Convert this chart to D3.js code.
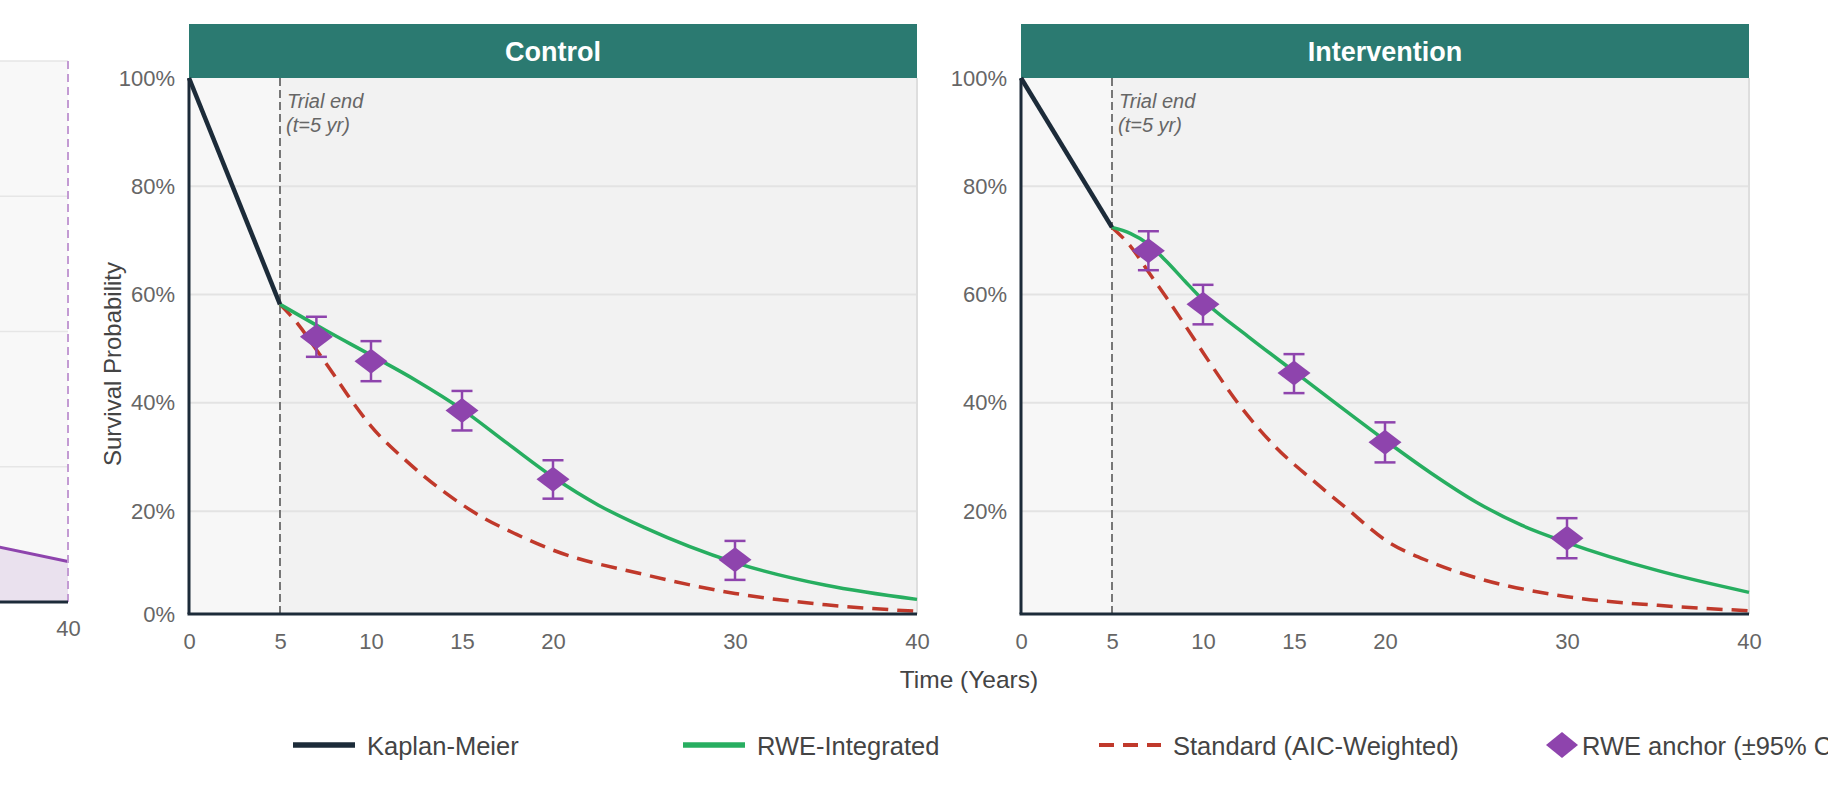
<!DOCTYPE html>
<html>
<head>
<meta charset="utf-8">
<script src="https://cdn.jsdelivr.net/npm/d3@7/dist/d3.min.js"></script>
<style>
  body { margin: 0; background: #fff; }
  svg text { font-family: 'Liberation Sans', Arial, Helvetica, sans-serif; }
</style>
</head>
<body>
<div id="chart"></div>
<script>
'use strict'

// shared axis stuff
let xTicks = [0, 5, 10, 15, 20, 30, 40]
let trialEnd = 5
let anchorYears = [7, 10, 15, 20, 30]

// Control arm
let controlKM = [[0, 1], [5, 0.582]]
let controlRWE = [[5, 0.582], [7.5, 0.534], [10, 0.488], [12.5, 0.441], [15, 0.388], [17.5, 0.325], [20, 0.263],
  [22.5, 0.211], [25, 0.17], [30, 0.105], [35, 0.063], [40, 0.037]]
let controlStd = [[5, 0.582], [6, 0.545], [7, 0.498], [8, 0.45], [9, 0.401], [10, 0.357], [12, 0.291], [14, 0.236],
  [16, 0.191], [18, 0.157], [20, 0.128], [25, 0.083], [30, 0.048], [35, 0.027], [40, 0.015]]
let controlAnchor = [0.522, 0.477, 0.386, 0.259, 0.11]
let controlLo = [0.485, 0.44, 0.349, 0.223, 0.073]
let controlHi = [0.559, 0.514, 0.422, 0.294, 0.145]

// Intervention arm
let interventionKM = [[0, 1], [5, 0.724]]
let interventionRWE = [[5, 0.724], [6, 0.713], [7, 0.693], [8, 0.661], [9, 0.625], [10, 0.59], [12.5, 0.522],
  [15, 0.458], [17.5, 0.394], [20, 0.331], [22.5, 0.271], [25, 0.217], [27.5, 0.174], [30, 0.142], [35, 0.09], [40, 0.05]]
let interventionStd = [[5, 0.724], [6, 0.69], [7, 0.642], [8, 0.594], [9, 0.544], [10, 0.493], [12, 0.396], [14, 0.318],
  [16, 0.258], [18, 0.202], [20, 0.147], [22.5, 0.106], [25, 0.077], [30, 0.042], [35, 0.026], [40, 0.016]]
let interventionAnchor = [0.681, 0.582, 0.455, 0.327, 0.15]
let interventionLo = [0.645, 0.545, 0.418, 0.29, 0.113]
let interventionHi = [0.717, 0.618, 0.49, 0.364, 0.187]

// the panel that is cut off at the left edge, only its tail shows
let cutYears = [35, 40]
let cutValues = [0.44, 0.3]
let cutTicks = [40]
let cutGrid = [1, 2, 3, 4]

let legendLabels = ['Kaplan-Meier', 'RWE-Integrated', 'Standard (AIC-Weighted)', 'RWE anchor (\u00b195% CI)']

let colors = {
  km: '#1c2b39',
  rwe: '#27ae60',
  std: '#c0392b',
  anchor: '#8e44ad',
  strip: '#2b7a71'
}

let config = {
  width: 1828,
  height: 790,
  panelWidth: 728,
  top: 78,
  bottom: 614,
  stripTop: 24
}

let svg = d3.select('#chart').append('svg')
  .attr('width', config.width)
  .attr('height', config.height)

let y = d3.scaleLinear().domain([0.01, 1]).range([config.bottom, config.top]).clamp(true)
let pct = d3.format('.0%')

function makeCutPanel() {
  let x = d3.scaleLinear().domain([0, 40]).range([68 - config.panelWidth, 68])
  let cy = d3.scaleLinear().domain([0, 4]).range([602, 61])
  let g = svg.append('g').attr('class', 'cut-panel')
  let pts = cutYears.map((t, i) => [t, cutValues[i]])

  g.append('rect')
    .attr('x', x(0)).attr('y', cy(4))
    .attr('width', config.panelWidth).attr('height', cy(0) - cy(4))
    .attr('fill', '#f8f8f8')
  g.append('g').selectAll('line').data(cutGrid).join('line')
    .attr('x1', x(0)).attr('x2', x(40))
    .attr('y1', d => cy(d)).attr('y2', d => cy(d))
    .attr('stroke', '#e6e6e6').attr('stroke-width', 1.5)
  g.append('path').datum(pts)
    .attr('d', d3.area().x(d => x(d[0])).y0(cy(0)).y1(d => cy(d[1])))
    .attr('fill', colors.anchor).attr('fill-opacity', 0.12)
  g.append('path').datum(pts)
    .attr('d', d3.line().x(d => x(d[0])).y(d => cy(d[1])))
    .attr('fill', 'none').attr('stroke', colors.anchor).attr('stroke-width', 3)
  g.append('line')
    .attr('x1', x(40)).attr('x2', x(40)).attr('y1', cy(4)).attr('y2', cy(0))
    .attr('stroke', '#c39bd3').attr('stroke-width', 2).attr('stroke-dasharray', '8,5')
  g.append('line')
    .attr('x1', x(0)).attr('x2', x(40)).attr('y1', cy(0)).attr('y2', cy(0))
    .attr('stroke', colors.km).attr('stroke-width', 3)

  let axis = g.append('g')
    .attr('transform', `translate(0, ${cy(0)})`)
    .call(d3.axisBottom(x).tickValues(cutTicks).tickSize(0).tickPadding(18))
  axis.select('.domain').remove()
  axis.selectAll('text').attr('font-size', 22).attr('fill', '#666').attr('font-family', null)
}

function makePanel(p) {
  let {top, bottom, panelWidth, stripTop} = config
  let x = d3.scaleLinear().domain([0, 40]).range([p.left, p.left + panelWidth])
  let g = svg.append('g').attr('class', 'panel')

  // backs
  g.append('rect')
    .attr('x', x(0)).attr('y', top)
    .attr('width', panelWidth).attr('height', bottom - top)
    .attr('fill', '#f2f2f2')
  g.append('rect')
    .attr('x', x(0)).attr('y', top)
    .attr('width', x(trialEnd) - x(0)).attr('height', bottom - top)
    .attr('fill', '#f7f7f7')

  g.append('g').attr('class', 'grid').selectAll('line').data([0.2, 0.4, 0.6, 0.8]).join('line')
    .attr('x1', x(0)).attr('x2', x(40))
    .attr('y1', d => y(d)).attr('y2', d => y(d))
    .attr('stroke', '#e3e3e3').attr('stroke-width', 2)

  g.append('line')
    .attr('x1', x(40)).attr('x2', x(40)).attr('y1', top).attr('y2', bottom)
    .attr('stroke', '#dedede').attr('stroke-width', 2)

  // strip title
  g.append('rect')
    .attr('x', x(0)).attr('y', stripTop)
    .attr('width', panelWidth).attr('height', top - stripTop)
    .attr('fill', colors.strip)
  g.append('text')
    .attr('x', (x(0) + x(40)) / 2).attr('y', 61)
    .attr('text-anchor', 'middle')
    .attr('font-size', 27).attr('font-weight', 'bold').attr('fill', '#fff')
    .text(p.title)

  // trial end marker
  g.append('line')
    .attr('x1', x(trialEnd)).attr('x2', x(trialEnd)).attr('y1', top).attr('y2', bottom)
    .attr('stroke', '#777').attr('stroke-width', 2).attr('stroke-dasharray', '8,4')
  let note = g.append('text')
    .attr('font-size', 20).attr('font-style', 'italic').attr('fill', '#666')
  note.append('tspan').attr('x', x(trialEnd) + 7).attr('y', 108).text('Trial end')
  note.append('tspan').attr('x', x(trialEnd) + 6).attr('y', 132).text(`(t=${trialEnd} yr)`)

  // curves
  let smooth = d3.line().x(d => x(d[0])).y(d => y(d[1])).curve(d3.curveMonotoneX)
  g.append('path').datum(p.std)
    .attr('d', smooth)
    .attr('fill', 'none').attr('stroke', colors.std).attr('stroke-width', 3.5)
    .attr('stroke-dasharray', '16,9')
  g.append('path').datum(p.rwe)
    .attr('d', smooth)
    .attr('fill', 'none').attr('stroke', colors.rwe).attr('stroke-width', 3.5)
  g.append('path').datum(p.km)
    .attr('d', d3.line().x(d => x(d[0])).y(d => y(d[1])))
    .attr('fill', 'none').attr('stroke', colors.km).attr('stroke-width', 4.5)

  // anchors with error bars
  let anchors = anchorYears.map((t, i) => ({t, v: p.anchor[i], lo: p.lo[i], hi: p.hi[i]}))
  let dot = g.append('g').attr('class', 'anchors').selectAll('g').data(anchors).join('g')
    .attr('transform', d => `translate(${x(d.t)}, 0)`)
    .attr('stroke', colors.anchor).attr('stroke-width', 2.5)
  dot.append('line').attr('y1', d => y(d.lo)).attr('y2', d => y(d.hi))
  dot.append('line').attr('x1', -10.5).attr('x2', 10.5).attr('y1', d => y(d.lo)).attr('y2', d => y(d.lo))
  dot.append('line').attr('x1', -10.5).attr('x2', 10.5).attr('y1', d => y(d.hi)).attr('y2', d => y(d.hi))
  dot.append('path')
    .attr('d', d => `M -16.5 ${y(d.v)} L 0 ${y(d.v) - 12.5} L 16.5 ${y(d.v)} L 0 ${y(d.v) + 12.5} Z`)
    .attr('fill', colors.anchor).attr('stroke', 'none')

  // axis lines
  g.append('line')
    .attr('x1', x(0)).attr('x2', x(0)).attr('y1', top).attr('y2', bottom)
    .attr('stroke', colors.km).attr('stroke-width', 3)
  g.append('line')
    .attr('x1', x(0) - 1.5).attr('x2', x(40)).attr('y1', bottom).attr('y2', bottom)
    .attr('stroke', colors.km).attr('stroke-width', 3)

  let xAxis = g.append('g')
    .attr('transform', `translate(0, ${bottom})`)
    .call(d3.axisBottom(x).tickValues(xTicks).tickSize(0).tickPadding(19))
  let yAxis = g.append('g')
    .attr('transform', `translate(${x(0)}, 0)`)
    .call(d3.axisLeft(y).tickValues(p.yTicks).tickFormat(pct).tickSize(0).tickPadding(14))
  for (let a of [xAxis, yAxis]) {
    a.select('.domain').remove()
    a.attr('font-family', null)
    a.selectAll('text').attr('font-size', 22).attr('fill', '#666')
  }
}

makeCutPanel()

makePanel({
  title: 'Control', left: 189,
  km: controlKM, rwe: controlRWE, std: controlStd,
  anchor: controlAnchor, lo: controlLo, hi: controlHi,
  yTicks: [0, 0.2, 0.4, 0.6, 0.8, 1]
})

makePanel({
  title: 'Intervention', left: 1021,
  km: interventionKM, rwe: interventionRWE, std: interventionStd,
  anchor: interventionAnchor, lo: interventionLo, hi: interventionHi,
  yTicks: [0.2, 0.4, 0.6, 0.8, 1]
})

// axis titles
svg.append('text')
  .attr('transform', 'translate(121, 364) rotate(-90)')
  .attr('text-anchor', 'middle')
  .attr('font-size', 24).attr('fill', '#444')
  .text('Survival Probability')
svg.append('text')
  .attr('x', 969).attr('y', 688)
  .attr('text-anchor', 'middle')
  .attr('font-size', 24.5).attr('fill', '#444')
  .text('Time (Years)')

// legend
let legendX = [293, 683, 1099, 1545]
let legendKeys = ['km', 'rwe', 'std', 'anchor']
let legend = svg.append('g').attr('class', 'legend')
  .selectAll('g').data(legendLabels).join('g')
  .attr('transform', (d, i) => `translate(${legendX[i]}, 745)`)

legend.each(function (d, i) {
  let item = d3.select(this)
  let key = legendKeys[i]
  if (key === 'anchor') {
    item.append('path')
      .attr('d', 'M 1 0 L 17 -13 L 33 0 L 17 13 Z')
      .attr('fill', colors.anchor)
    item.append('text').attr('x', 37).attr('y', 10).attr('font-size', 25.5).attr('fill', '#444').text(d)
    return
  }
  item.append('line')
    .attr('x1', 0).attr('x2', 62)
    .attr('stroke', colors[key])
    .attr('stroke-width', key === 'std' ? 4 : 5.5)
    .attr('stroke-dasharray', key === 'std' ? '15,9' : null)
  item.append('text').attr('x', 74).attr('y', 10).attr('font-size', 25.5).attr('fill', '#444').text(d)
})
</script>
</body>
</html>
